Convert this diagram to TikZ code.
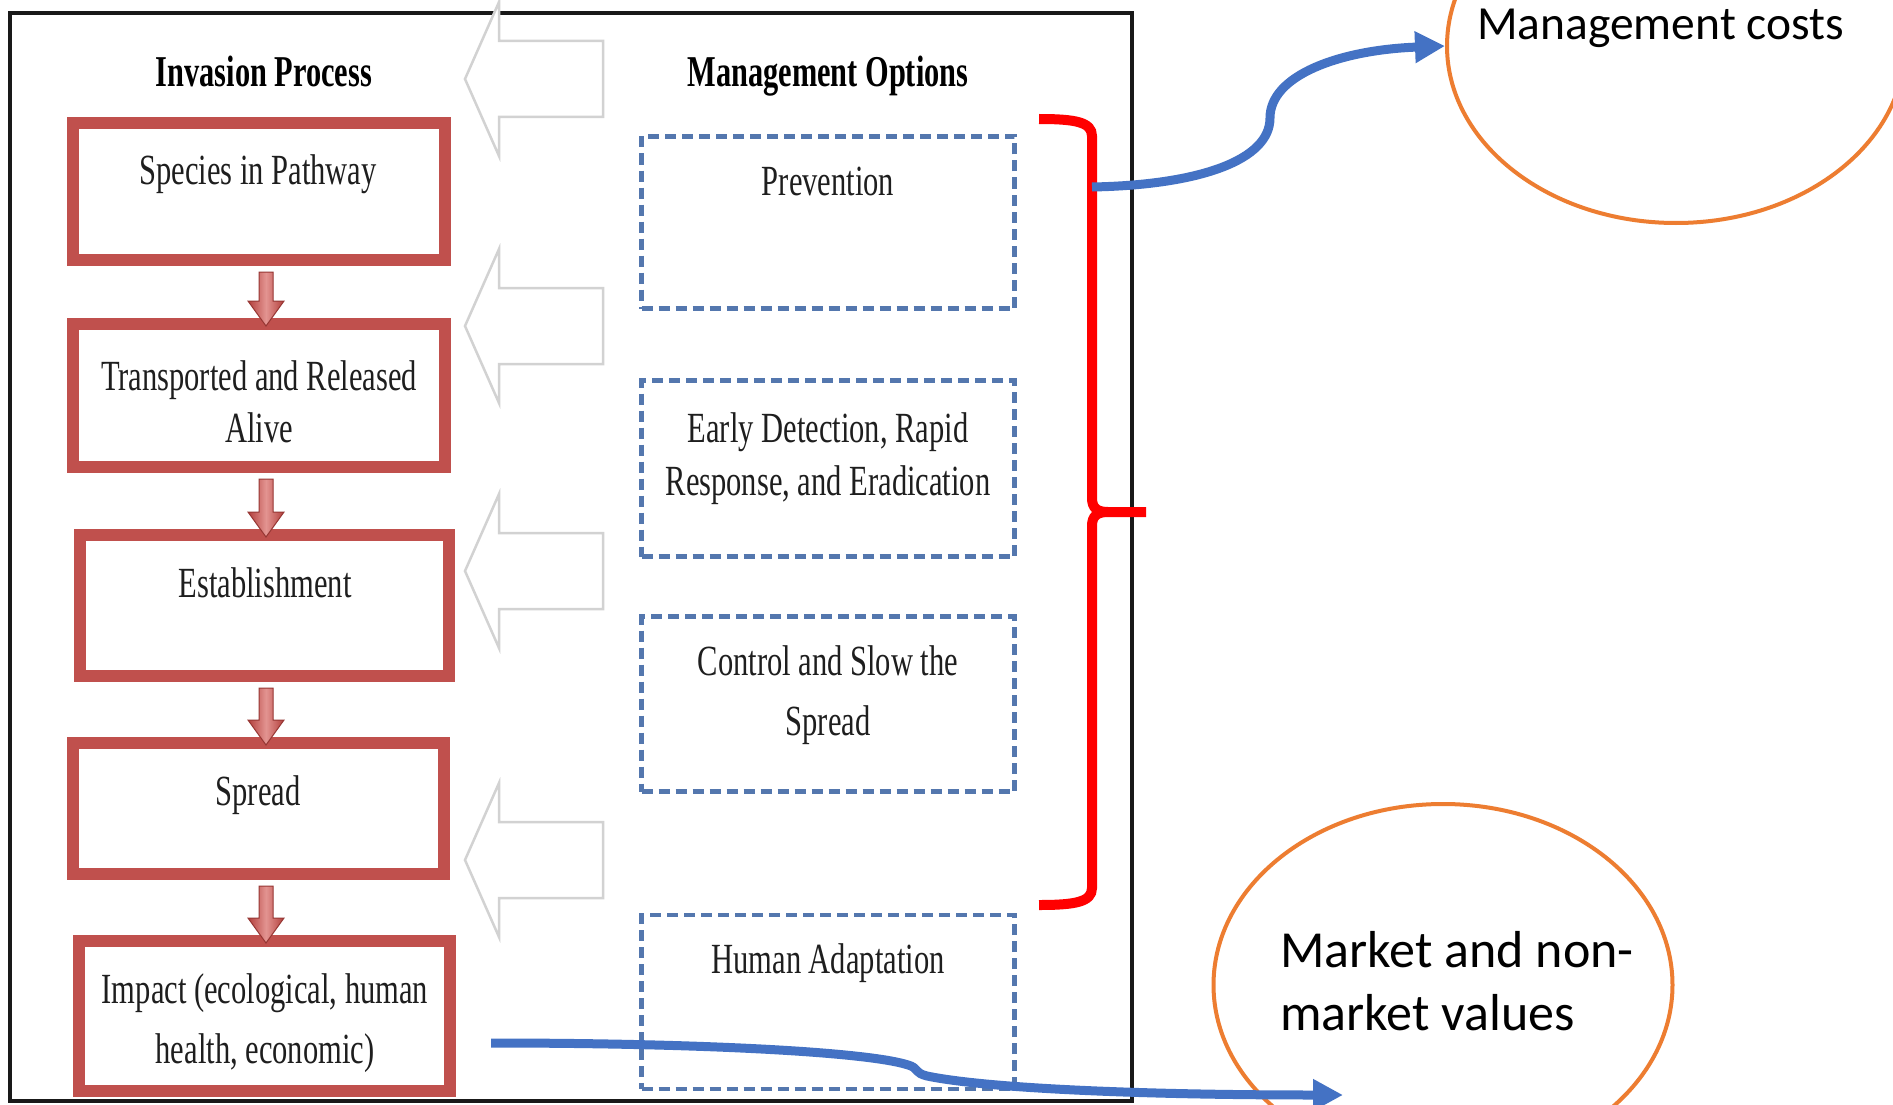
\documentclass[tikz,border=0pt]{standalone}
\usepackage{fontspec}
\usetikzlibrary{calc,shapes.geometric,arrows.meta}
\newfontfamily\procfont[FakeStretch=0.71]{Liberation Serif}
\newfontfamily\headfont[FakeStretch=0.69]{Liberation Serif}
\newfontfamily\calfont{Carlito}
\definecolor{boxred}{HTML}{C0504D}
\definecolor{optblue}{HTML}{5477AE}
\definecolor{linkblue}{HTML}{4472C4}
\definecolor{valorange}{HTML}{ED7D31}
\definecolor{hollowgray}{HTML}{D2D2D2}
\definecolor{txt}{HTML}{1E1E1E}
\definecolor{flowdark}{HTML}{B23F3C}
\definecolor{flowlight}{HTML}{E39491}
\definecolor{flowedge}{HTML}{963633}

% left-pointing hollow block arrow, tip height #1
\newcommand\hollowarrow[1]{%
  \draw[hollow] (603,#1-38) -- (499,#1-38) -- (499,#1-77) -- (465,#1)
    -- (499,#1+77) -- (499,#1+38) -- (603,#1+38) -- cycle;}
% shaded block arrow from process box #1 down to process box #2
\newcommand\flowarrow[2]{%
  \path[flowshade] ($(ax |- #1.south)+(-7,6)$) -- ($(ax |- #2.north)+(-7,-17)$)
    -- ($(ax |- #2.north)+(-18,-17)$) -- ($(ax |- #2.north)+(0,8)$)
    -- ($(ax |- #2.north)+(18,-17)$) -- ($(ax |- #2.north)+(7,-17)$)
    -- ($(ax |- #1.south)+(7,6)$) -- cycle;}

\begin{document}
\begin{tikzpicture}[x=1pt,y=-1pt,
  procbox/.style={rectangle, draw=boxred, line width=12pt, fill=white, inner sep=0pt},
  optbox/.style={rectangle, draw=optblue, line width=4.5pt, dash pattern=on 11pt off 6pt, inner sep=0pt},
  lbl/.style={font=\procfont\fontsize{43}{52}\selectfont, text=txt, anchor=base, align=center, inner sep=0pt},
  heading/.style={font=\headfont\bfseries\fontsize{44}{52}\selectfont, text=black, anchor=base, inner sep=0pt},
  hollow/.style={draw=hollowgray, line width=2.5pt, fill=white, line join=miter},
  flowshade/.style={left color=flowdark, right color=flowdark, middle color=flowlight, draw=flowedge, line width=1pt},
  valring/.style={ellipse, draw=valorange, line width=4pt, inner sep=0pt},
  link/.style={draw=linkblue, line width=9pt, -{Triangle[length=30pt,width=30pt]}},
  bracket/.style={draw=red, line width=10pt}]
\useasboundingbox (0,0) rectangle (1893,1105);
\clip (0,0) rectangle (1893,1105);
\fill[white] (0,0) rectangle (1893,1105);

% outer frame
\draw[line width=4pt, draw=black!90] (9.5,13.5) rectangle (1132,1101);

% hollow arrows from the options towards the process
\hollowarrow{79}
\hollowarrow{326}
\hollowarrow{571}
\hollowarrow{860}

% column headings
\node[heading] (hproc) at (264,87) {Invasion Process};
\node[heading] (hopt) at (828,87) {Management Options};

% invasion process boxes
\node[procbox, minimum width=372pt, minimum height=137pt] (p1) at (259,191.5) {};
\node[procbox, minimum width=372pt, minimum height=143pt] (p2) at (259,395.5) {};
\node[procbox, minimum width=369pt, minimum height=141pt] (p3) at (264.5,605.5) {};
\node[procbox, minimum width=371pt, minimum height=131pt] (p4) at (258.5,808.5) {};
\node[procbox, minimum width=371pt, minimum height=150pt] (p5) at (264.5,1016) {};

% labels sit on the baseline of their last line
\node[lbl] (t1) at (258,185) {Species in Pathway};
\node[lbl] (t2) at (259,442) {Transported and Released\\Alive};
\node[lbl] (t3) at (265,597) {Establishment};
\node[lbl] (t4) at (258,805) {Spread};
\node[lbl] (t5) at (265,1063) {Impact (ecological, human\\[8pt]health, economic)};

% arrows down the process
\coordinate (ax) at (266,0);
\flowarrow{p1}{p2}
\flowarrow{p2}{p3}
\flowarrow{p3}{p4}
\flowarrow{p4}{p5}

% management option boxes
\node[optbox, minimum width=373pt, minimum height=172pt] (m1) at (828,222.5) {};
\node[optbox, minimum width=373pt, minimum height=176pt] (m2) at (828,468.5) {};
\node[optbox, minimum width=373pt, minimum height=175pt] (m3) at (828,704) {};
\node[optbox, minimum width=373pt, minimum height=174pt] (m4) at (828,1002) {};

\node[lbl] (o1) at (828,195) {Prevention};
\node[lbl] (o2) at (828,495) {Early Detection, Rapid\\[1pt]Response, and Eradication};
\node[lbl] (o3) at (828,735) {Control and Slow the\\[8pt]Spread};
\node[lbl] (o4) at (828,973) {Human Adaptation};

% bracket grouping the first three options
\draw[bracket] (1039,119) .. controls (1075,119) and (1092,122) .. (1092,136)
  -- (1092,498) .. controls (1092,508) and (1097,512) .. (1108,512) -- (1146,512)
  (1108,512) .. controls (1097,512) and (1092,516) .. (1092,526)
  -- (1092,888) .. controls (1092,902) and (1075,905) .. (1039,905);

% value ellipses
\node[valring, minimum width=458pt, minimum height=354pt] (costs) at (1676,46) {};
\node[valring, minimum width=459pt, minimum height=362pt] (values) at (1443,985) {};
\node[anchor=base west, inner sep=0pt, font=\calfont\fontsize{47.5}{57}\selectfont] (costtxt) at (1477,40) {Management costs};
\node[anchor=base west, inner sep=0pt, align=left, font=\calfont\fontsize{52}{63}\selectfont] (valtxt) at (1280,1030) {Market and non-\\market values};

% links to the valuations
\coordinate (costsrc) at (1092,187);
\draw[link] (costsrc) .. controls (1200,185) and (1270,160) .. (1270,118)
  .. controls (1270,75) and (1340,50) .. (costs.west);
\coordinate (impsrc) at (491,1043);
\coordinate (valend) at (1343,1095);
\draw[link] (impsrc) .. controls (700,1043) and (875,1052) .. (911,1066)
  .. controls (918,1069) and (915,1073) .. (927,1076)
  .. controls (990,1089) and (1150,1095) .. (valend);
\end{tikzpicture}
\end{document}
